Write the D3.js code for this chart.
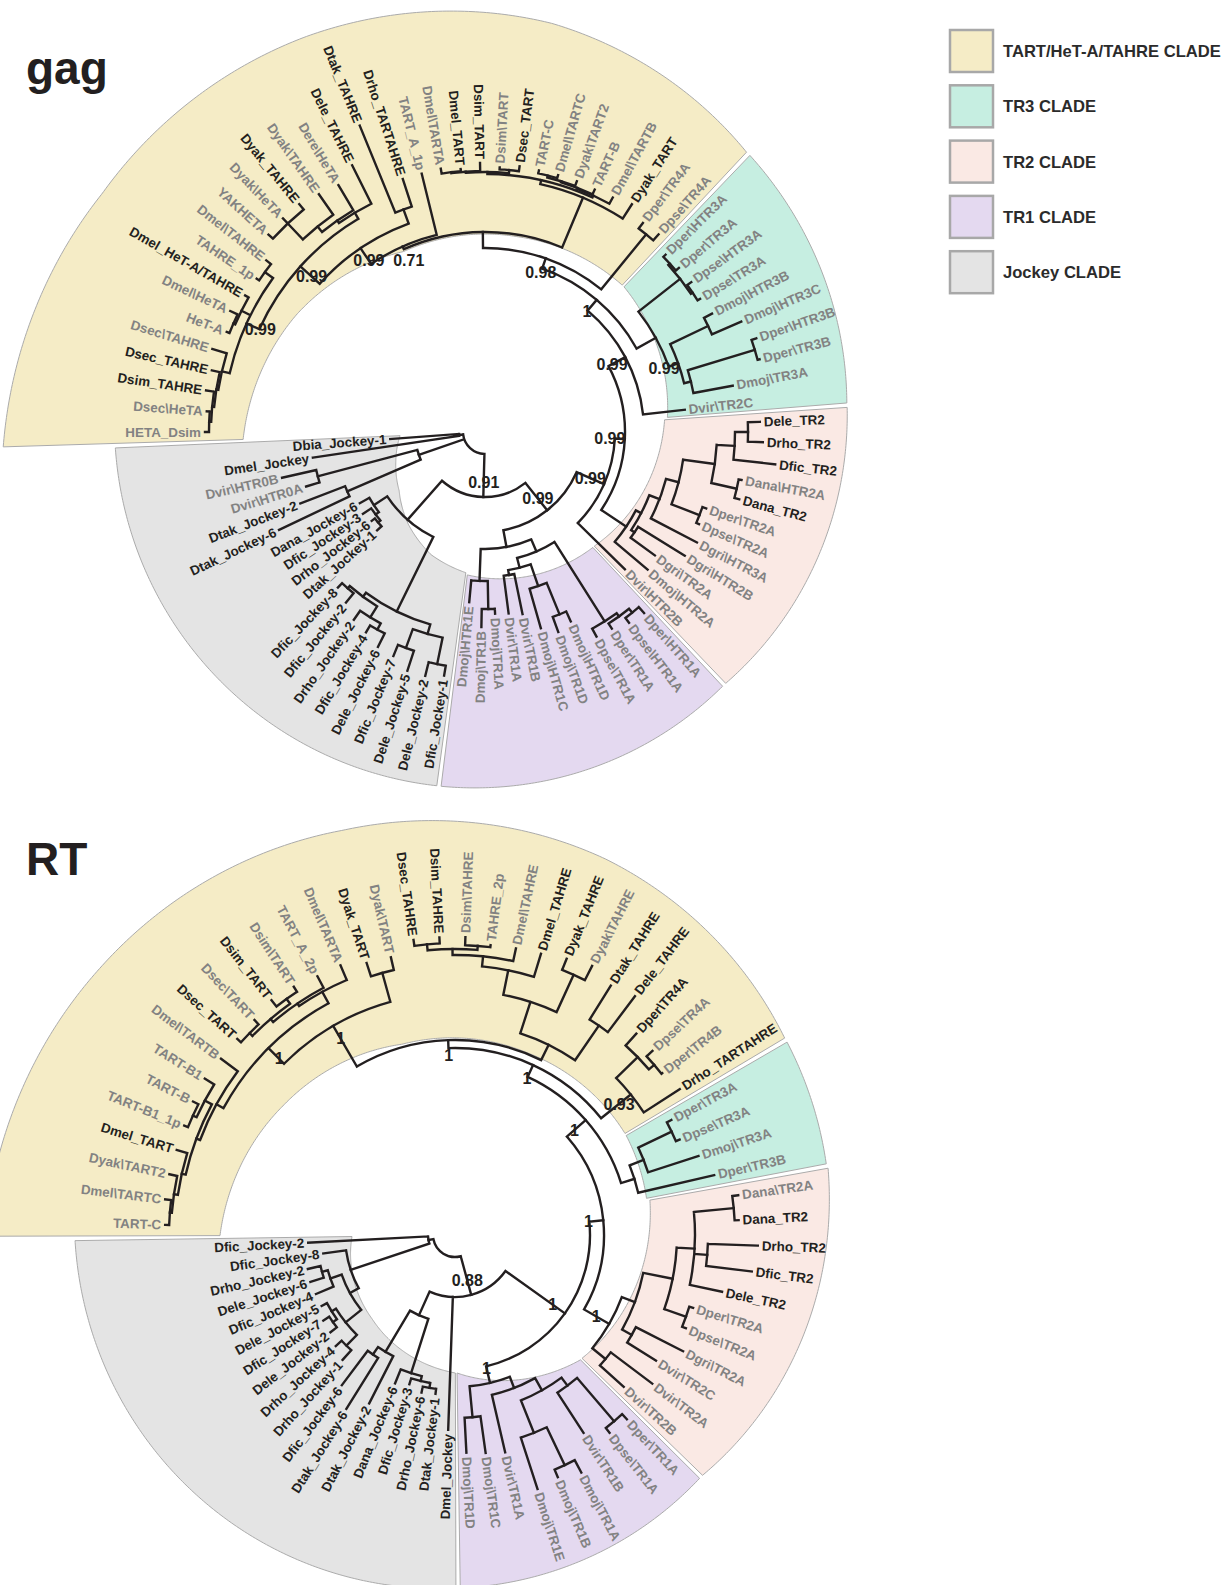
<!DOCTYPE html>
<html>
<head>
<meta charset="utf-8">
<script src="https://cdn.jsdelivr.net/npm/d3@7"></script>
<style>
  body { margin: 0; background: #fff; }
  text { font-family: "Liberation Sans", Arial, sans-serif; font-weight: bold; }
</style>
</head>
<body>
<script>
// ---------------------------------------------------------------
// Clades (legend order) and their highlight colours
// ---------------------------------------------------------------
const cladeNames  = ["TART/HeT-A/TAHRE CLADE", "TR3 CLADE", "TR2 CLADE", "TR1 CLADE", "Jockey CLADE"];
const cladeFills  = ["#f5ecc6", "#c6eee1", "#fae9e4", "#e4d9f0", "#e4e4e4"];

// ---------------------------------------------------------------
// gag tree. Each node is followed by ":" and its distance from the
// root; internal nodes may carry a posterior support value.
// ---------------------------------------------------------------
const gagHeTA = String.raw`(((((HETA_Dsim:2.80,Dsec\HeTA:2.79):2.76,Dsim_TAHRE:2.82):2.74,Dsec_TAHRE:2.80):2.72,Dsec\TAHRE:2.85):2.70,
  ((HeT-A:2.77,Dmel\HeTA:2.82):2.74,Dmel_HeT-A/TAHRE:2.76):2.72,(TAHRE_1p:2.75,Dmel\TAHRE:2.78):2.72)0.99:2.62`;
const gagYak = String.raw`(((YAKHETA:2.93,Dyak\HeTA:2.94,Dyak_TAHRE:2.94):2.87,Dyak\TAHRE:2.90):2.65,Dere\HeTA:2.87):2.58`;
const gagTARTs = String.raw`((((Dmel\TARTA:2.67,Dmel_TART:2.64):2.62,Dsim_TART:2.69):2.61,(Dsim\TART:2.65,Dsec_TART:2.68):2.63):2.60,
  ((((TART-C:2.67,Dmel\TARTC:2.67):2.64,Dyak\TART2:2.67):2.62,TART-B:2.66):2.61,Dmel\TARTB:2.67):2.60):2.58`;
const gagTART = `(((((${gagHeTA},(${gagYak},Dele_TAHRE:2.98):2.55)0.99:2.48,(Dtak_TAHRE:3.31,Drho_TARTAHRE:2.66):2.37)0.99:2.22,
  TART_A_1p:2.66)0.71:2.03,(${gagTARTs},Dyak_TART:2.71):2.54):2.00,(Dper\\TR4A:2.62,Dpse\\TR4A:2.63):2.55)0.98:1.84`;
const gagTR3 = String.raw`(((Dper\HTR3A:2.53,Dper\TR3A:2.54):2.50,(Dpse\HTR3A:2.55,Dpse\TR3A:2.53):2.50):2.48,
  ((Dmoj\HTR3B:2.56,Dmoj\HTR3C:2.79):2.47,((Dper\HTR3B:2.87,Dper\TR3B:2.84):2.82,Dmoj\TR3A:2.52):2.12)0.99:2.05):1.95`;
const gagTR2 = String.raw`(((((((Dele_TR2:2.75,Drho_TR2:2.78):2.63,Dfic_TR2:2.92):2.50,(Dana\HTR2A:2.61,Dana_TR2:2.63):2.58):2.32,
  (Dper\TR2A:2.34,Dpse\TR2A:2.33):2.30):2.00,Dgri\HTR3A:2.39):1.87,(Dgri\HTR2B:2.35,Dgri\TR2A:2.10):1.80):1.76,
  Dmoj\HTR2A:2.13):1.70`;
const gagTR1 = String.raw`(((((Dper\HTR1A:2.41,Dpse\HTR1A:2.39):2.33,Dper\TR1A:2.34):2.28,Dpse\TR1A:2.33):2.24,
  (((Dmoj\HTR1D:2.08,Dmoj\TR1D:2.13):1.97,Dmoj\HTR1C:2.04):1.63,(Dvir\TR1B:1.86,Dvir\TR1A:1.83):1.45):1.40):1.30,
  ((Dmoj\TR1A:1.82,Dmoj\TR1B:1.95):1.77,Dmoj\HTR1E:1.71):1.49):1.17`;
const gagJockeyA = String.raw`(((Dfic_Jockey-1:2.47,Dele_Jockey-2:2.51):2.37,(Dele_Jockey-5:2.51,Dfic_Jockey-7:2.42):2.30):2.10,
  (((Dele_Jockey-6:2.40,Dfic_Jockey-4:2.33):2.25,Drho_Jockey-2:2.29):2.18,(Dfic_Jockey-2:2.20,Dfic_Jockey-8:2.14):2.08):2.05):2.00`;
const gagJockeyB = String.raw`(((Dtak_Jockey-1:1.46,Drho_Jockey-6:1.44):1.40,Dfic_Jockey-3:1.47):1.37,Dana_Jockey-6:1.44):1.33`;
const gagJockeyC = String.raw`((Dtak_Jockey-6:2.28,Dtak_Jockey-2:1.98):1.50,(Dvir\HTR0A:1.87,Dvir\HTR0B:2.08):1.73):0.70`;
const gagJockeyD = String.raw`(Dmel_Jockey:1.74,Dbia_Jockey-1:0.95):0.26`;
const gagTree = `(((((((${gagTART},${gagTR3})1:1.73,Dvir\\TR2C:2.01)0.99:1.59,${gagTR2})0.99:1.40,Dvir\\HTR2B:1.96)0.99:1.30,
  ${gagTR1})0.99:1.00,(${gagJockeyA},${gagJockeyB}):1.17)0.91:0.65,${gagJockeyC},${gagJockeyD}):0.22`;
const gagGrey = String.raw`HETA_Dsim Dsec\HeTA Dsec\TAHRE HeT-A Dmel\HeTA TAHRE_1p Dmel\TAHRE YAKHETA Dyak\HeTA Dyak\TAHRE
  Dere\HeTA TART_A_1p Dmel\TARTA Dsim\TART TART-C Dmel\TARTC Dyak\TART2 TART-B Dmel\TARTB Dper\TR4A Dpse\TR4A
  Dper\HTR3A Dper\TR3A Dpse\HTR3A Dpse\TR3A Dmoj\HTR3B Dmoj\HTR3C Dper\HTR3B Dper\TR3B Dmoj\TR3A Dvir\TR2C
  Dana\HTR2A Dper\TR2A Dpse\TR2A Dgri\HTR3A Dgri\HTR2B Dgri\TR2A Dmoj\HTR2A Dvir\HTR2B
  Dper\HTR1A Dpse\HTR1A Dper\TR1A Dpse\TR1A Dmoj\HTR1D Dmoj\TR1D Dmoj\HTR1C Dvir\TR1B Dvir\TR1A Dmoj\TR1A
  Dmoj\TR1B Dmoj\HTR1E Dvir\HTR0A Dvir\HTR0B`.trim().split(/\s+/);
const gagCladeSizes = [32, 10, 12, 12, 19];

// ---------------------------------------------------------------
// RT tree
// ---------------------------------------------------------------
const rtTARTa = String.raw`(((((TART-C:2.90,Dmel\TARTC:2.92):2.86,Dyak\TART2:2.92):2.84,Dmel_TART:2.91):2.80,
  ((TART-B1_1p:2.92,TART-B:2.94):2.88,TART-B1:2.95):2.84):2.76,Dmel\TARTB:2.93):2.72`;
const rtTARTb = String.raw`((((Dsec_TART:2.93,Dsec\TART:2.94):2.88,(Dsim_TART:2.98,Dsim\TART:2.96):2.90):2.84,TART_A_2p:2.93):2.80,
  Dmel\TARTA:2.93):2.77`;
const rtTAHRE = String.raw`((((((Dsec_TAHRE:2.98,Dsim_TAHRE:2.98):2.92,(Dsim\TAHRE:2.98,TAHRE_2p:2.92):2.90):2.86,Dmel\TAHRE:2.93):2.80,
  Dmel_TAHRE:2.94):2.70,(Dyak_TAHRE:2.98,Dyak\TAHRE:3.02):2.86):2.45,(Dtak_TAHRE:2.94,Dele_TAHRE:2.99):2.54):2.12`;
const rtTR4 = String.raw`((Dper\TR4A:2.71,(Dpse\TR4A:2.70,Dper\TR4B:2.63):2.62):2.55,Drho_TARTAHRE:2.68)0.93:2.25`;
const rtTART = `((((${rtTARTa},${rtTARTb})1:2.64,(Dyak_TART:2.86,Dyak\\TART:2.85):2.72)1:2.42,${rtTAHRE})1:1.95,${rtTR4})1:1.87`;
const rtTR3 = String.raw`(((Dper\TR3A:2.45,Dpse\TR3A:2.44):2.40,Dmoj\TR3A:2.56):2.03,Dper\TR3B:2.66):1.88`;
const rtTR2 = String.raw`(((((Dana\TR2A:2.86,Dana_TR2:2.84):2.80,(Drho_TR2:3.03,Dfic_TR2:2.99):2.53,Dele_TR2:2.73):2.40,
  (Dper\TR2A:2.49,Dpse\TR2A:2.49):2.45):2.22,(Dgri\TR2A:2.56,Dvir\TR2C:2.37):2.03):1.92,(Dvir\TR2A:2.47,Dvir\TR2B:2.27):1.95)1:1.78`;
const rtTR1 = String.raw`(((((Dper\TR1A:2.52,Dpse\TR1A:2.51):2.45,Dvir\TR1B:2.36):1.88,((Dmoj\TR1A:2.69,Dmoj\TR1B:2.63):2.55,
  Dmoj\TR1E:2.67):2.13):1.78,Dvir\TR1A:2.23):1.64,(Dmoj\TR1C:2.20,Dmoj\TR1D:2.18):1.83)1:1.52`;
const rtJockeyA = String.raw`((((Dtak_Jockey-1:1.60,Drho_Jockey-6:1.61):1.55,Dfic_Jockey-3:1.56):1.50,Dana_Jockey-6:1.60):1.45,
  (Dtak_Jockey-2:1.89,(Dtak_Jockey-6:2.05,Dfic_Jockey-6:1.88):1.45):1.36):0.88`;
const rtJockeyB = String.raw`(((((Drho_Jockey-1:1.68,Drho_Jockey-4:1.63):1.55,((Dele_Jockey-2:1.58,Dfic_Jockey-7:1.57):1.50,
  Dele_Jockey-5:1.51):1.45):1.40,(Dfic_Jockey-4:1.51,(Dele_Jockey-6:1.52,Drho_Jockey-2:1.51):1.38):1.32):1.20,
  Dfic_Jockey-8:1.33):1.10,Dfic_Jockey-2:1.47):0.27`;
const rtTree = `(((((${rtTART},${rtTR3})1:1.74,${rtTR2})1:1.49,${rtTR1})1:1.35,Dmel_Jockey:1.95,${rtJockeyA})0.88:0.62,
  ${rtJockeyB}):0.22`;
const rtGrey = String.raw`TART-C Dmel\TARTC Dyak\TART2 TART-B1_1p TART-B TART-B1 Dmel\TARTB Dsec\TART Dsim\TART TART_A_2p
  Dmel\TARTA Dyak\TART Dsim\TAHRE TAHRE_2p Dmel\TAHRE Dyak\TAHRE Dpse\TR4A Dper\TR4B
  Dper\TR3A Dpse\TR3A Dmoj\TR3A Dper\TR3B Dana\TR2A Dper\TR2A Dpse\TR2A Dgri\TR2A Dvir\TR2C Dvir\TR2A Dvir\TR2B
  Dper\TR1A Dpse\TR1A Dvir\TR1B Dmoj\TR1A Dmoj\TR1B Dmoj\TR1E Dvir\TR1A Dmoj\TR1C Dmoj\TR1D`.trim().split(/\s+/);
const rtCladeSizes = [30, 4, 11, 9, 18];

// ---------------------------------------------------------------
// Layout of the two panels: centre, rotation of the first leaf,
// and the inner / outer edge of each clade band (sampled evenly
// across the band, from its first to its last leaf).
// ---------------------------------------------------------------
const panels = [
  { title: "gag", tree: gagTree, grey: gagGrey, sizes: gagCladeSizes,
    cx: 485, cy: 432, start: -90, titleY: 84,
    bands: [
      { inner: [242, 222, 198, 198, 201], outer: [482, 451, 434, 414, 383] },
      { inner: [201, 183], outer: [383, 363] },
      { inner: [180, 158], outer: [363, 348] },
      { inner: [158, 144], outer: [348, 357] },
      { inner: [142, 134, 120, 104, 94, 85], outer: [357, 370] }
    ] },
  { title: "RT", tree: rtTree, grey: rtGrey, sizes: rtCladeSizes,
    cx: 455, cy: 1235, start: -88, titleY: 875,
    bands: [
      { inner: [235, 215, 198, 196, 198], outer: [470, 444, 420, 405, 384] },
      { inner: [198, 195], outer: [384, 378] },
      { inner: [198, 177], outer: [379, 345] },
      { inner: [177, 138], outer: [345, 353] },
      { inner: [138, 118, 103], outer: [353, 380] }
    ] }
];

// ---------------------------------------------------------------
function parseTree(src) {
  const s = src.replace(/\s+/g, "");
  let i = 0;
  function readNode() {
    const node = { children: [] };
    if (s[i] === "(") {
      i++;
      node.children.push(readNode());
      while (s[i] === ",") { i++; node.children.push(readNode()); }
      i++;
    }
    let label = "";
    while (i < s.length && !",():".includes(s[i])) label += s[i++];
    let dist = 0;
    if (s[i] === ":") {
      i++;
      let num = "";
      while (i < s.length && !",()".includes(s[i])) num += s[i++];
      dist = +num;
    }
    if (node.children.length) node.support = label; else node.name = label;
    node.dist = dist;
    return node;
  }
  return readNode();
}

const W = 1228, H = 1585;
const svg = d3.select("body").append("svg").attr("width", W).attr("height", H);
const rad = d => d * Math.PI / 180;
const radius = d3.scaleLinear().domain([0, 5]).range([0, 500]);
const ink = "#231f20", greyInk = "#828282";

panels.forEach(p => {
  const root = d3.hierarchy(parseTree(p.tree), d => d.children.length ? d.children : null);
  const leaves = root.leaves();
  const n = leaves.length;
  const angle = d3.scaleLinear().domain([0, n]).range([p.start, p.start + 360]);
  const step = 360 / n;
  leaves.forEach((d, i) => d.a = angle(i));
  root.eachAfter(d => {
    if (d.children) d.a = (d.children[0].a + d.children[d.children.length - 1].a) / 2;
    d.r = radius(d.data.dist);
  });

  const g = svg.append("g").attr("transform", `translate(${p.cx},${p.cy})`);

  // clade bands
  let first = 0;
  p.sizes.forEach((size, k) => {
    const gap = 0.35;
    const a0 = angle(first) - step / 2 + gap;
    const a1 = angle(first + size - 1) + step / 2 - gap;
    first += size;
    const band = p.bands[k];
    const samp = v => d3.scaleLinear()
      .domain(v.map((_, j) => a0 + (a1 - a0) * j / (v.length - 1))).range(v);
    const rin = samp(band.inner), rout = samp(band.outer);
    const as = d3.range(a0, a1, 0.5).concat([a1]);
    const pts = as.map(a => [rad(a), rout(a)]).concat(as.slice().reverse().map(a => [rad(a), rin(a)]));
    g.append("path")
      .attr("d", d3.lineRadial().angle(d => d[0]).radius(d => d[1]).curve(d3.curveLinearClosed)(pts))
      .attr("fill", cladeFills[k]).attr("stroke", "#ababab").attr("stroke-width", 1);
  });

  // branches: an arc at every internal node and a radial line to each child
  const links = g.append("g").attr("fill", "none").attr("stroke", ink)
    .attr("stroke-width", 2.4).attr("stroke-linecap", "square");
  root.each(d => {
    if (!d.children) return;
    const c0 = d.children[0].a, c1 = d.children[d.children.length - 1].a;
    const path = d3.path();
    const s = d3.pointRadial(rad(c0), d.r);
    path.moveTo(s[0], s[1]);
    path.arc(0, 0, d.r, rad(c0 - 90), rad(c1 - 90), c1 < c0);
    d.children.forEach(c => {
      const p0 = d3.pointRadial(rad(c.a), d.r), p1 = d3.pointRadial(rad(c.a), c.r);
      path.moveTo(p0[0], p0[1]);
      path.lineTo(p1[0], p1[1]);
    });
    links.append("path").attr("d", path.toString());
  });

  // leaf labels
  const grey = new Set(p.grey);
  g.append("g").selectAll("text").data(leaves).join("text")
    .attr("font-size", 13.4)
    .attr("dy", "0.35em")
    .attr("fill", d => grey.has(d.data.name) ? greyInk : ink)
    .attr("text-anchor", d => { const a = (d.a % 360 + 360) % 360; return a > 180 ? "end" : "start"; })
    .attr("transform", d => {
      const a = (d.a % 360 + 360) % 360;
      return `rotate(${d.a - 90}) translate(${d.r + 4},0)` + (a > 180 ? " rotate(180)" : "");
    })
    .text(d => d.data.name);

  // support values
  g.append("g").selectAll("text")
    .data(root.descendants().filter(d => d.children && d.data.support))
    .join("text")
    .attr("font-size", 16).attr("fill", ink).attr("text-anchor", "middle").attr("dy", "0.35em")
    .attr("x", d => d3.pointRadial(rad(d.a), d.r - 15)[0])
    .attr("y", d => d3.pointRadial(rad(d.a), d.r - 15)[1])
    .text(d => d.data.support);

  // panel title
  svg.append("text").attr("x", 26).attr("y", p.titleY)
    .attr("font-size", 46).attr("fill", ink).text(p.title);
});

// legend
const legend = svg.append("g").attr("transform", "translate(950,30)");
cladeNames.forEach((name, k) => {
  const row = legend.append("g").attr("transform", `translate(0,${k * 55.3})`);
  row.append("rect").attr("width", 43).attr("height", 42)
    .attr("fill", cladeFills[k]).attr("stroke", "#a8a8a8").attr("stroke-width", 2.5);
  row.append("text").attr("x", 53).attr("y", 27).attr("font-size", 16.6).attr("fill", "#2b2b2b").text(name);
});
</script>
</body>
</html>
